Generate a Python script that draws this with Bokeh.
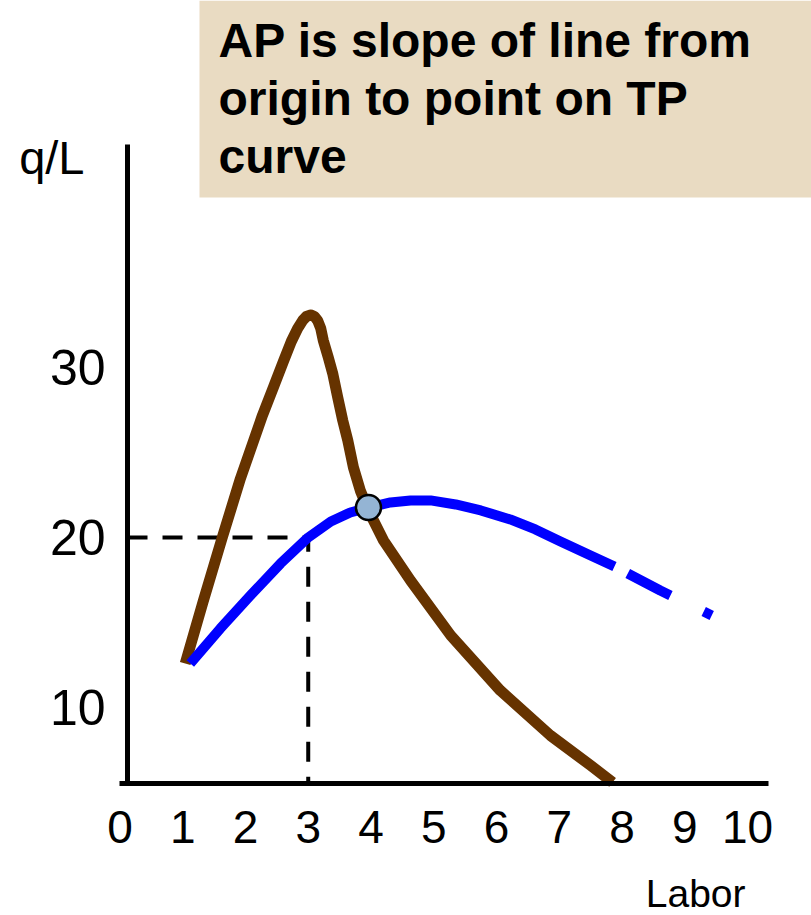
from bokeh.plotting import figure
from bokeh.models import Range1d, FixedTicker, Label, BoxAnnotation
from bokeh.embed import file_html
from bokeh.resources import INLINE

# ---- data ----
labor_mp = [1.04, 1.33, 1.63, 1.92, 2.27, 2.45, 2.61, 2.73, 2.83, 2.91, 2.97, 3.04, 3.10, 3.15,
            3.20, 3.24, 3.32, 3.39, 3.47, 3.55, 3.63, 3.72, 3.83, 3.96, 4.20, 4.63, 5.27, 6.06,
            6.86, 7.50, 7.85]
mp = [12.59, 16.29, 20.00, 23.47, 27.18, 28.88, 30.41, 31.53, 32.29, 32.76, 33.00, 33.09, 33.00,
      32.76, 32.29, 31.59, 30.59, 29.65, 28.24, 26.88, 25.71, 24.12, 22.76, 21.59, 19.82, 17.47,
      14.24, 11.00, 8.35, 6.59, 5.59]

labor_ap = [1.12, 1.60, 2.08, 2.56, 3.00, 3.36, 3.67, 3.96, 4.31, 4.63, 4.95, 5.35, 5.75,
            6.22, 6.62, 7.02, 7.50, 7.88]
ap = [12.59, 14.65, 16.59, 18.47, 20.00, 20.94, 21.47, 21.76, 22.06, 22.18, 22.18, 21.94, 21.59,
      21.06, 20.47, 19.76, 18.94, 18.29]

labor_ap_tail = [7.88, 8.61, 9.43]
ap_tail = [18.29, 16.88, 15.41]

x_ticks = [0, 1, 2, 3, 4, 5, 6, 7, 8, 9, 10]
y_ticks = [10, 20, 30]

marked_L = 3
marked_AP = 20
cross_L = 3.96
cross_q = 21.76

title_text = "AP is slope of line from\norigin to point on TP\ncurve"
y_label = "q/L"
x_label = "Labor"

# ---- figure ----
FONT = "Liberation Sans"
axis_L = 0.12      # where the q/L axis stands
axis_q = 5.53      # where the Labor axis stands
y_top = 43.12      # top end of the q/L axis
x_right = 10.33    # right end of the Labor axis

p = figure(width=811, height=915, x_range=Range1d(-1.904, 11.02), y_range=Range1d(-2.24, 51.59),
           output_backend="svg", toolbar_location=None,
           min_border_left=0, min_border_right=0, min_border_top=0, min_border_bottom=0)
p.outline_line_color = None
p.grid.visible = False
p.background_fill_color = "white"

# axes
p.xaxis.fixed_location = axis_q
p.xaxis.ticker = FixedTicker(ticks=x_ticks)
p.xaxis.bounds = (0, x_right)
p.xaxis.axis_line_width = 5
p.xaxis.axis_line_color = "black"
p.xaxis.major_tick_line_color = None
p.xaxis.minor_tick_line_color = None
p.xaxis.major_tick_out = 0
p.xaxis.major_tick_in = 0
p.xaxis.major_label_standoff = 28
p.xaxis.major_label_text_font = FONT
p.xaxis.major_label_text_font_size = "46px"
p.xaxis.major_label_text_color = "black"

p.yaxis.fixed_location = axis_L
p.yaxis.ticker = FixedTicker(ticks=y_ticks)
p.yaxis.bounds = (axis_q, y_top)
p.yaxis.axis_line_width = 5
p.yaxis.axis_line_color = "black"
p.yaxis.major_tick_line_color = None
p.yaxis.minor_tick_line_color = None
p.yaxis.major_tick_out = 0
p.yaxis.major_tick_in = 0
p.yaxis.major_label_standoff = 22
p.yaxis.major_label_text_font = FONT
p.yaxis.major_label_text_font_size = "50px"
p.yaxis.major_label_text_color = "black"

# title box
p.add_layout(BoxAnnotation(left=1.267, bottom=40.0, fill_color="#E9DBC2", fill_alpha=1.0,
                           line_color=None, level="underlay"))
p.add_layout(Label(x=1.267, y=51.59, x_offset=19, y_offset=-13, text=title_text,
                   text_font=FONT, text_font_size="48px", text_font_style="bold",
                   text_color="black", text_align="left", text_baseline="top",
                   text_line_height=1.10))

# axis titles
p.add_layout(Label(x=axis_L, y=y_top, x_offset=-43, y_offset=-13, text=y_label,
                   text_font=FONT, text_font_size="47px", text_color="black",
                   text_align="right", text_baseline="alphabetic"))
p.add_layout(Label(x=10, y=axis_q, x_offset=-2, y_offset=-110, text=x_label,
                   text_font=FONT, text_font_size="39px", text_color="black",
                   text_align="right", text_baseline="alphabetic"))

# dashed guide lines
p.line([axis_L, marked_L, marked_L], [marked_AP, marked_AP, axis_q],
       line_color="black", line_width=4, line_dash="20 15")

# MP curve (brown) and AP curve (blue)
p.line(labor_mp, mp, line_color="#663300", line_width=11, line_join="round")
p.line(labor_ap, ap, line_color="#0000FF", line_width=10, line_join="round")
p.line(labor_ap_tail, ap_tail, line_color="#0000FF", line_width=10, line_dash="0 15 48 37 9 300")

# intersection marker
p.scatter([cross_L], [cross_q], size=25, marker="circle", fill_color="#94B4D4",
          line_color="black", line_width=2.5)

open("out.html", "w").write(file_html(p, INLINE))
